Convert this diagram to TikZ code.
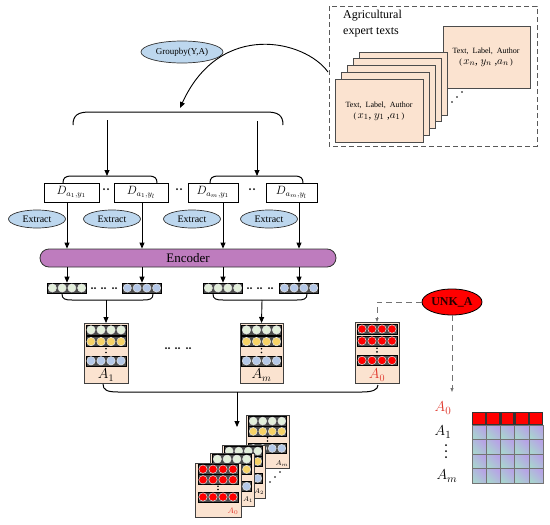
\documentclass[tikz,border=0pt]{standalone}
\usepackage{fontspec}
\setmainfont{Liberation Serif}
\usetikzlibrary{arrows.meta,shapes.geometric}
\definecolor{peach}{HTML}{FBE3D0}
\definecolor{lblue}{HTML}{BDD7EE}
\definecolor{encc}{HTML}{BE7CBE}
\definecolor{cgreen}{HTML}{E2EFDA}
\definecolor{cyellow}{HTML}{F7D366}
\definecolor{cblue}{HTML}{B4C8E8}
\definecolor{cred}{HTML}{FF0000}
\definecolor{lred}{HTML}{E0372C}
\definecolor{mtA}{HTML}{A9D3CF}
\definecolor{mtB}{HTML}{B7A3E6}
\tikzset{
  arr/.style={-{Triangle[length=6pt,width=5pt]}, line width=0.9pt},
  dasharr/.style={black!55, line width=0.9pt, dash pattern=on 6pt off 4pt, -{Triangle[length=4pt,width=3pt]}},
  brc/.style={line width=1pt},
  vbar/.style={rectangle, draw=black, fill=black!70, minimum height=10pt, inner sep=0pt, line width=0.6pt},
  card/.style={rectangle, draw=black!75, fill=peach, line width=0.8pt, inner sep=0pt},
  tcard/.style={rectangle, draw=black!70, fill=peach, line width=0.7pt, inner sep=0pt, minimum width=88pt, minimum height=63pt, anchor=north west},
  dbox/.style={rectangle, draw=black, fill=white, line width=0.8pt, minimum height=19pt, inner sep=0pt, font=\fontsize{12}{12}\selectfont},
  extr/.style={ellipse, draw=black!80, fill=lblue, line width=0.7pt, minimum width=57pt, minimum height=18pt, inner sep=0pt, font=\fontsize{10}{10}\selectfont},
  dotc/.style={fill=black}
}
\newcommand\vrow[5]{%
  \node[vbar, minimum width=#4pt] (#1) at (#2,#3) {};
  \foreach \k in {-1.5,-0.5,0.5,1.5}
    \filldraw[fill=#5, draw=white!80!gray, line width=0.5pt] ({(#2)+\k*(#4)/4},#3) circle[radius={(#4)/8-0.8}];
}
\newcommand\mcard[9]{% name, cx, top, w, h, rw, c1, c2, c3
  \node[card, minimum width=#4pt, minimum height=#5pt, anchor=north] (#1) at (#2,#3) {};
  \vrow{#1ra}{#2}{#3+0.115*#5}{#6}{#7}
  \vrow{#1rb}{#2}{#3+0.31*#5}{#6}{#8}
  \vrow{#1rc}{#2}{#3+0.63*#5}{#6}{#9}
  \fill ({#2},{#3+0.43*#5}) circle[radius=0.9];
  \fill ({#2},{#3+0.49*#5}) circle[radius=0.9];
}
\begin{document}
\begin{tikzpicture}[x=1pt,y=-1pt]
\useasboundingbox (0,0) rectangle (550,525);
\fill[white] (0,0) rectangle (550,525);

% ---------- top right box ----------
\draw[black!65, line width=0.9pt, dash pattern=on 5pt off 3pt] (329,6) rectangle (537,146);
\node[anchor=north west, align=left, font=\fontsize{12}{16}\selectfont, inner sep=0pt] (title) at (343,10) {Agricultural\\expert texts};
\node[tcard, minimum width=87pt, minimum height=62pt] (tn) at (443,26) {};
\node[align=center, font=\fontsize{8}{12}\selectfont] (tntext) at (486,57) {Text,\ \ Label,\ \ Author\\[-1pt] (\,{\fontsize{11}{11}\selectfont$x_n$, $y_n$ ,$a_n$}\,)};
\node[tcard] (t5) at (359,52) {};
\node[tcard] (t4) at (353,58) {};
\node[tcard] (t3) at (347,65) {};
\node[tcard] (t2) at (341,72) {};
\node[tcard] (t1) at (335,79) {};
\node[align=center, font=\fontsize{8}{12}\selectfont] (t1text) at (379,111) {Text,\ \ Label,\ \ Author\\[-1pt] (\,{\fontsize{11}{11}\selectfont$x_1$, $y_1$ ,$a_1$}\,)};
\foreach \p in {(452,102),(457,97),(462,92)} \fill \p circle[radius=0.9];

% ---------- groupby ----------
\node[ellipse, draw=black!80, fill=lblue, line width=0.7pt, minimum width=82pt, minimum height=22pt, inner sep=0pt, font=\fontsize{9}{9}\selectfont] (grp) at (182,52) {Groupby(Y,A)};
\coordinate (arcs) at (328,72);
\coordinate (arce) at (180,108);
\draw[arr] (arcs) .. controls (305,40) and (220,20) .. (arce);

% top brace
\draw[brc] (73,125) .. controls (73,115) and (78,112) .. (90,112) -- (266,112) .. controls (278,112) and (283,115) .. (283,125);
\coordinate (g1s) at (107,120); \coordinate (g1e) at (107,176);
\coordinate (g2s) at (257,121); \coordinate (g2e) at (257,176);
\draw[arr] (g1s) -- (g1e);
\draw[arr] (g2s) -- (g2e);
% second braces
\draw[brc] (63,183) .. controls (63,178) and (65,176) .. (72,176) -- (148,176) .. controls (155,176) and (157,178) .. (157,183);
\draw[brc] (210,183) .. controls (210,178) and (212,176) .. (219,176) -- (294,176) .. controls (301,176) and (303,178) .. (303,183);

% D boxes
\node[dbox, minimum width=55pt] (d1) at (71.5,192.5) {$D_{a_1,y_1}$};
\node[dbox, minimum width=54pt] (d2) at (141,192.5) {$D_{a_1,y_l}$};
\node[dbox, minimum width=50pt] (d3) at (213,192.5) {$D_{a_m,y_1}$};
\node[dbox, minimum width=51pt] (d4) at (291.5,192.5) {$D_{a_m,y_l}$};
\foreach \x in {104,108,177,181,250,254} \fill (\x,189) circle[radius=1];

% Extract
\node[extr] (e1) at (37,219) {Extract};
\node[extr] (e2) at (112,219) {Extract};
\node[extr] (e3) at (192,219) {Extract};
\node[extr] (e4) at (269,219) {Extract};

% Encoder
\node[rectangle, rounded corners=9pt, draw=black!80, fill=encc, line width=0.8pt, minimum width=296pt, minimum height=18pt, inner sep=0pt, font=\fontsize{13}{13}\selectfont] (enc) at (188,258) {Encoder};

% vectors
\vrow{v1}{67}{288}{39}{cgreen}
\vrow{v2}{142}{288}{39}{cblue}
\vrow{v3}{223}{288}{39}{cgreen}
\vrow{v4}{299}{288}{39}{cblue}
\foreach \x in {92,95,102,105,113,116,248,251,258,261,269,272} \fill (\x,288) circle[radius=1];

\foreach \i in {1,2,3,4} {
  \draw[arr] (d\i.south -| v\i) -- (v\i |- enc.north);
  \draw[arr] (enc.south -| v\i) -- (v\i.north);
}

% vector braces
\draw[brc] (62,294) .. controls (62,299) and (65,300) .. (72,300) -- (143,300) .. controls (150,300) and (153,299) .. (153,294);
\draw[brc] (213,294) .. controls (213,299) and (216,300) .. (223,300) -- (297,300) .. controls (304,300) and (307,299) .. (307,294);

% big cards
\mcard{ca}{106}{323}{44}{60}{40}{cgreen}{cyellow}{cblue}
\mcard{cm}{261.5}{323}{43}{60}{40}{cgreen}{cyellow}{cblue}
\mcard{cz}{377}{322}{44}{61}{40}{cred}{cred}{cred}
\node[font=\fontsize{14}{14}\selectfont] (la1) at (106,375) {$A_1$};
\node[font=\fontsize{14}{14}\selectfont] (lam) at (261.5,375) {$A_m$};
\node[font=\fontsize{14}{14}\selectfont, text=lred] (la0) at (377,375) {$A_0$};
\foreach \x in {166,169,176,179,187,190} \fill (\x,348) circle[radius=1];

\coordinate (vb1) at (106,300);
\coordinate (vb2) at (262,300);
\draw[arr] (vb1) -- (ca.north);
\draw[arr] (vb2) -- (cm.north);

% bottom brace
\draw[brc] (103,384) .. controls (103,390) and (107,392) .. (118,392) -- (362,392) .. controls (372,392) and (378,390) .. (378,385);
\coordinate (bb) at (237,392);
\coordinate (bt) at (237,427);
\draw[arr] (bb) -- (bt);

% stacked cards
\mcard{sm}{267.5}{415}{43}{53}{38}{cgreen}{cyellow}{cblue}
\node[font=\fontsize{7}{7}\selectfont] (lsm) at (282,464) {$A_m$};
\mcard{s2}{243.5}{445}{43}{53}{38}{cgreen}{cyellow}{cblue}
\node[font=\fontsize{7}{7}\selectfont] (ls2) at (259,492) {$A_2$};
\mcard{s1}{232}{453}{44}{53}{39}{cgreen}{cyellow}{cblue}
\node[font=\fontsize{7}{7}\selectfont] (ls1) at (248,500) {$A_1$};
\mcard{s0}{218}{463}{46}{54}{40}{cred}{cred}{cred}
\node[font=\fontsize{8}{8}\selectfont, text=lred] (ls0) at (233,511) {$A_0$};
\foreach \p in {(270,482),(275,477),(280,472)} \fill \p circle[radius=0.9];

% UNK_A
\node[ellipse, draw=black, fill=cred, line width=0.8pt, minimum width=60pt, minimum height=26pt, inner sep=0pt, font=\fontsize{12}{12}\selectfont\bfseries, text=black!85!red] (unk) at (452,302) {UNK\_A};
\draw[dasharr] (unk.west) -| (cz.north);
\coordinate (r0top) at (452,392);
\draw[dasharr] (unk.south) -- (r0top);

% right matrix labels
\node[font=\fontsize{15}{15}\selectfont, text=lred] (r0) at (443,408) {$A_0$};
\node[font=\fontsize{15}{15}\selectfont] (r1) at (443,432) {$A_1$};
\node[font=\fontsize{15}{15}\selectfont] (rm) at (447,476) {$A_m$};
\foreach \y in {445,451,457} \fill (446,\y) circle[radius=1];

% right matrix
\foreach \i in {0,...,3} {
  \foreach \j in {0,...,4} {
    \shade[left color=mtA, right color=mtB, shading angle=135] ({472+14.2*\j},{425+14.5*\i}) rectangle ++(14.2,14.5);
    \draw[black!55, line width=0.5pt] ({472+14.2*\j},{425+14.5*\i}) rectangle ++(14.2,14.5);
  }
}
\fill[black!80] (472,412) rectangle (543,425);
\foreach \j in {0,...,4} \fill[cred] ({473.2+14.2*\j},413.2) rectangle ++(11.8,10.6);
\end{tikzpicture}
\end{document}
